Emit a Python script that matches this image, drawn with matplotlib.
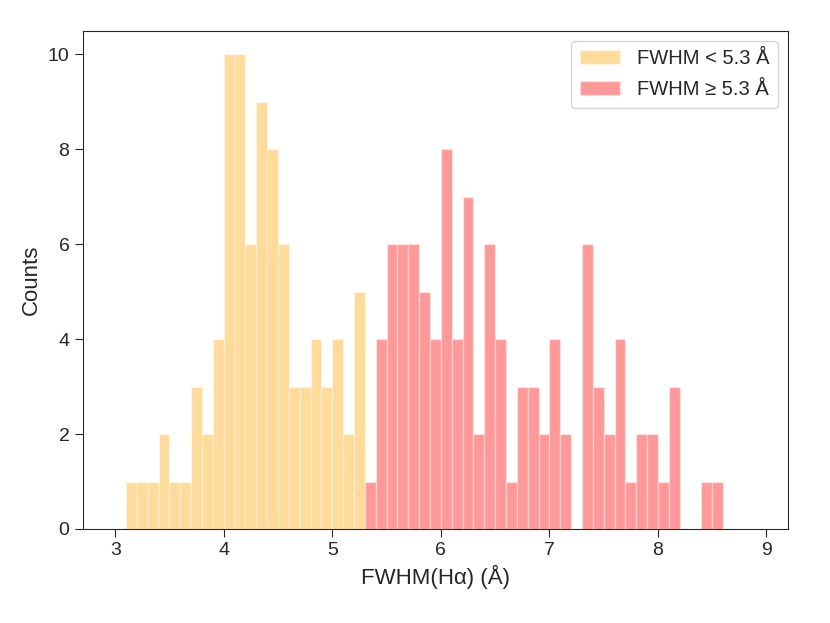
import numpy as np
import matplotlib.pyplot as plt
import seaborn as sns

# bin counts, bin width 0.1 Angstrom
narrow_start = 3.1
narrow_counts = [1, 1, 1, 2, 1, 1, 3, 2, 4, 10, 10, 6, 9, 8, 6, 3, 3, 4, 3, 4, 2, 5]
broad_start = 5.3
broad_counts = [1, 4, 6, 6, 6, 5, 4, 8, 4, 7, 2, 6, 4, 1, 3, 3, 2, 4, 2, 0,
                6, 3, 2, 4, 1, 2, 2, 1, 3, 0, 0, 1, 1]
bin_width = 0.1
labels = ['FWHM < 5.3 Å', 'FWHM ≥ 5.3 Å']


def main():
    sns.set_style('ticks')
    plt.rcParams['font.family'] = ['Liberation Sans', 'DejaVu Sans']

    fig = plt.figure(figsize=(8.3, 6.23), dpi=100)
    ax = fig.add_axes([0.0996, 0.1509, 0.850, 0.800])

    x1 = narrow_start + bin_width * np.arange(len(narrow_counts))
    x2 = broad_start + bin_width * np.arange(len(broad_counts))
    ax.bar(x1, narrow_counts, width=bin_width, align='edge', color='orange',
           alpha=0.4, edgecolor='white', linewidth=1, label=labels[0])
    ax.bar(x2, broad_counts, width=bin_width, align='edge', color='red',
           alpha=0.4, edgecolor='white', linewidth=1, label=labels[1])

    ax.set_xlim(2.7, 9.2)
    ax.set_ylim(0, 10.5)
    ax.set_yticks([0, 2, 4, 6, 8, 10])
    ax.tick_params(labelsize=14, length=6)
    ax.set_xlabel('FWHM(Hα) (Å)', fontsize=16)
    ax.set_ylabel('Counts', fontsize=16)
    ax.legend(fontsize=14.5, loc='upper right', labelspacing=0.6,
              handletextpad=0.85, borderpad=0.42)

    fig.savefig('out.png', dpi=100)


if __name__ == '__main__':
    main()
